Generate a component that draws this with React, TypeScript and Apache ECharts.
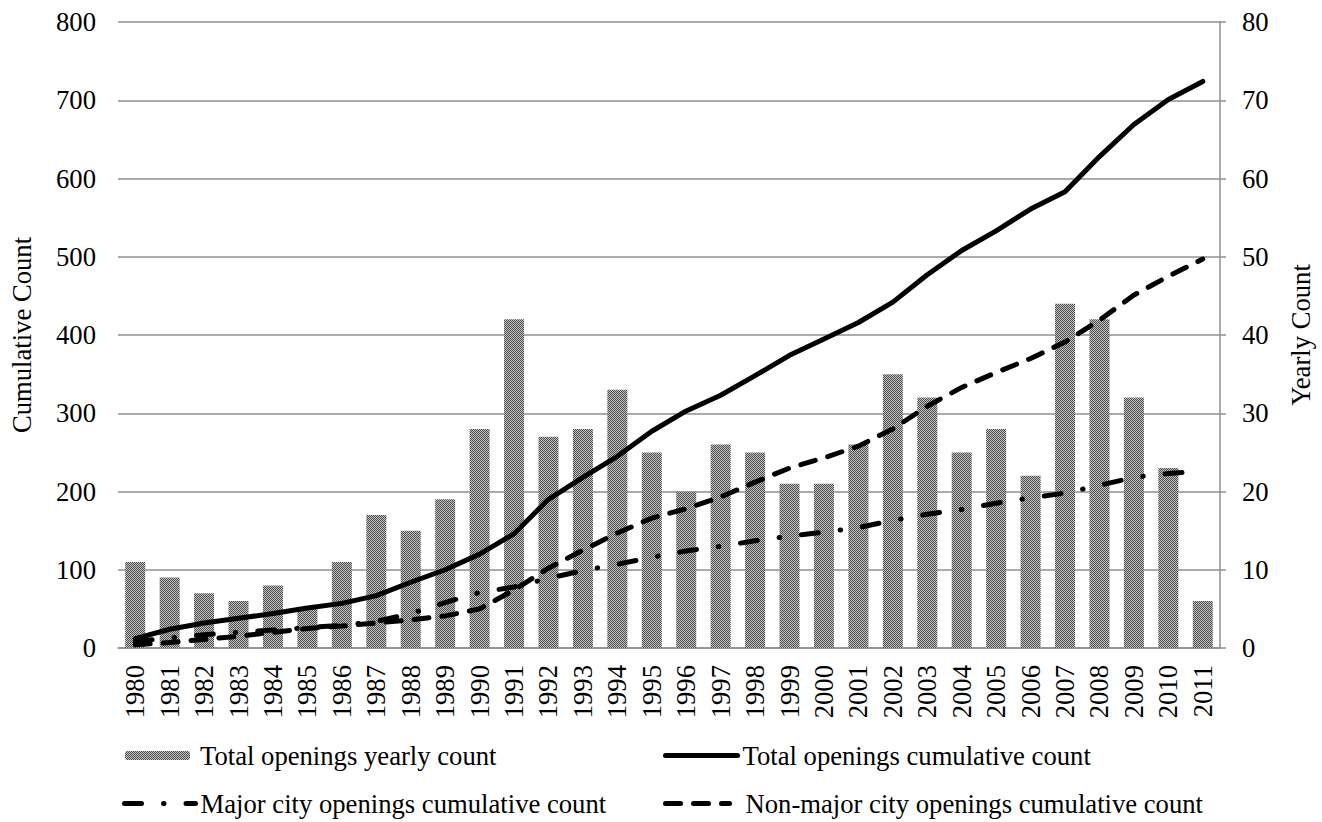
import React, { useEffect, useRef } from "react";
import * as echarts from "echarts";

const years = [
  "1980", "1981", "1982", "1983", "1984", "1985", "1986", "1987", "1988", "1989",
  "1990", "1991", "1992", "1993", "1994", "1995", "1996", "1997", "1998", "1999",
  "2000", "2001", "2002", "2003", "2004", "2005", "2006", "2007", "2008", "2009",
  "2010", "2011",
];

const yearlyCount = [
  11, 9, 7, 6, 8, 5, 11, 17, 15, 19,
  28, 42, 27, 28, 33, 25, 20, 26, 25, 21,
  21, 26, 35, 32, 25, 28, 22, 44, 42, 32,
  23, 6,
];

const totalCumulative = [
  12, 24, 32, 38, 44, 51, 57, 67, 84, 100,
  120, 146, 190, 218, 245, 277, 303, 323, 348, 374,
  395, 416, 442, 477, 508, 533, 561, 583, 628, 669,
  701, 724,
];

const majorCumulative = [
  8, 13, 17, 20, 23, 26, 29, 34, 44, 58,
  71, 78, 89, 99, 107, 116, 124, 130, 137, 143,
  148, 154, 163, 171, 177, 185, 192, 198, 208, 218,
  223, 226,
];

const nonMajorCumulative = [
  4, 7, 11, 15, 20, 25, 28, 32, 36, 41,
  50, 74, 102, 125, 147, 166, 178, 193, 212, 230,
  243, 258, 280, 309, 333, 352, 370, 391, 419, 451,
  475, 497,
];

const NAME_BAR = "Total openings yearly count";
const NAME_TOTAL = "Total openings cumulative count";
const NAME_MAJOR = "Major city openings cumulative count";
const NAME_NONMAJOR = "Non-major city openings cumulative count";

const FONT = "Liberation Serif";
const FS = 26.67;
const GRID_COLOR = "#8f8f8f";

const DASH_DOT = [17, 22, 0.5, 22];
const DASHED = [15, 13];

function makePattern(): any {
  const c = document.createElement("canvas");
  c.width = 2;
  c.height = 2;
  const ctx = c.getContext("2d")!;
  ctx.fillStyle = "#c4c4c4";
  ctx.fillRect(0, 0, 2, 2);
  ctx.fillStyle = "#4c4c4c";
  ctx.fillRect(0, 0, 1, 1);
  ctx.fillRect(1, 1, 1, 1);
  return { image: c, repeat: "repeat" };
}

export default function App() {
  const ref = useRef<HTMLDivElement>(null);

  useEffect(() => {
    document.body.style.margin = "0";
    if (!ref.current) return;
    const chart = echarts.init(ref.current, undefined, { renderer: "svg" });
    const pattern = makePattern();

    const legendText = { fontFamily: FONT, fontSize: FS, color: "#000" };
    const hiddenSymbol = { opacity: 0, color: "transparent", borderWidth: 0 };

    const option: any = {
      animation: false,
      backgroundColor: "#fff",
      textStyle: { fontFamily: FONT },
      grid: { left: 104, right: 101, top: 22, bottom: 174, containLabel: false },
      legend: [
        {
          data: [NAME_BAR], left: 125, top: 742, padding: 0,
          itemWidth: 65, itemHeight: 9, selectedMode: false,
          textStyle: { ...legendText, padding: [0, 0, 0, 5] },
        },
        {
          data: [NAME_TOTAL], left: 663, top: 742, padding: 0,
          itemWidth: 72, itemHeight: 1, selectedMode: false,
          itemStyle: hiddenSymbol,
          lineStyle: { color: "#000", width: 5, type: "solid", cap: "round" },
          textStyle: legendText,
        },
        {
          data: [NAME_MAJOR], left: 122, top: 790, padding: 0,
          itemWidth: 71, itemHeight: 1, selectedMode: false,
          itemStyle: hiddenSymbol,
          lineStyle: { color: "#000", width: 5, type: DASH_DOT, cap: "round" },
          textStyle: legendText,
        },
        {
          data: [NAME_NONMAJOR], left: 663, top: 790, padding: 0,
          itemWidth: 64, itemHeight: 1, selectedMode: false,
          itemStyle: hiddenSymbol,
          lineStyle: { color: "#000", width: 5, type: DASHED, cap: "round" },
          textStyle: { ...legendText, padding: [0, 0, 0, 11] },
        },
      ],
      xAxis: {
        type: "category",
        data: years,
        axisLine: { show: true, lineStyle: { color: GRID_COLOR, width: 1.5 } },
        axisTick: { show: false },
        axisLabel: {
          interval: 0, rotate: 90, margin: 17, color: "#000",
          fontFamily: FONT, fontSize: FS,
        },
      },
      yAxis: [
        {
          type: "value", min: 0, max: 800, interval: 100,
          name: "Cumulative Count", nameLocation: "middle", nameGap: 83,
          nameMoveOverlap: false,
          nameTextStyle: { fontFamily: FONT, fontSize: FS, color: "#000" },
          axisLine: { show: false },
          axisTick: { show: false },
          axisLabel: { margin: 22, color: "#000", fontFamily: FONT, fontSize: FS },
          splitLine: { show: true, lineStyle: { color: GRID_COLOR, width: 1.5 } },
        },
        {
          type: "value", min: 0, max: 80, interval: 10, position: "right",
          name: "Yearly Count", nameLocation: "middle", nameGap: 67,
          nameMoveOverlap: false,
          nameTextStyle: { fontFamily: FONT, fontSize: FS, color: "#000" },
          axisLine: { show: true, lineStyle: { color: GRID_COLOR, width: 1.5 } },
          axisTick: { show: true, length: 6, inside: false, lineStyle: { color: GRID_COLOR, width: 1.5 } },
          axisLabel: { margin: 22, color: "#000", fontFamily: FONT, fontSize: FS },
          splitLine: { show: false },
        },
      ],
      series: [
        {
          name: NAME_BAR,
          type: "bar",
          yAxisIndex: 1,
          barWidth: 20,
          data: yearlyCount,
          itemStyle: { color: pattern },
        },
        {
          name: NAME_TOTAL,
          type: "line",
          yAxisIndex: 0,
          data: totalCumulative,
          symbol: "none",
          showSymbol: false,
          lineStyle: { color: "#000", width: 5, type: "solid", join: "round", cap: "round" },
          itemStyle: { color: "#000" },
        },
        {
          name: NAME_MAJOR,
          type: "line",
          yAxisIndex: 0,
          data: majorCumulative,
          symbol: "none",
          showSymbol: false,
          lineStyle: { color: "#000", width: 5, type: DASH_DOT, join: "round", cap: "round" },
          itemStyle: { color: "#000" },
        },
        {
          name: NAME_NONMAJOR,
          type: "line",
          yAxisIndex: 0,
          data: nonMajorCumulative,
          symbol: "none",
          showSymbol: false,
          lineStyle: { color: "#000", width: 5, type: DASHED, join: "round", cap: "round" },
          itemStyle: { color: "#000" },
        },
      ],
    };

    chart.setOption(option);
    return () => chart.dispose();
  }, []);

  return <div ref={ref} style={{ width: 1322, height: 822 }} />;
}
